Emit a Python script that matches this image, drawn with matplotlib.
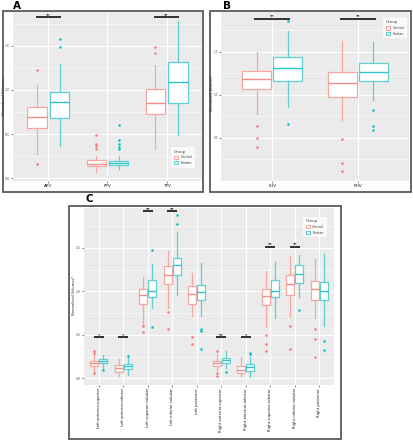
import matplotlib
matplotlib.use('Agg')
import matplotlib.pyplot as plt
from matplotlib.patches import Rectangle, Patch
from matplotlib.ticker import FixedLocator

# ---------------- Data ----------------
groups = ["Control", "Fontan"]

# Panel A
a_categories = ["APV", "PPV", "TPV"]
a_ctrl_low = [0.27, 0.07, 0.33]
a_ctrl_q1 = [0.57, 0.14, 0.73]
a_ctrl_med = [0.69, 0.165, 0.85]
a_ctrl_q3 = [0.81, 0.21, 1.01]
a_ctrl_high = [1.06, 0.25, 1.28]
a_ctrl_out = [[1.22, 0.16], [0.49, 0.39, 0.37, 0.33], [1.48, 1.42]]
a_fon_low = [0.36, 0.11, 0.49]
a_fon_q1 = [0.68, 0.15, 0.85]
a_fon_med = [0.86, 0.17, 1.09]
a_fon_q3 = [0.98, 0.20, 1.31]
a_fon_high = [1.29, 0.25, 1.78]
a_fon_out = [[1.49, 1.57], [0.60, 0.43, 0.39, 0.35, 0.33], []]
a_sig = ["**", "", "**"]
a_sig_y = [1.82, None, 1.82]
a_yticks = [0.0, 0.5, 1.0, 1.5]
a_yticklabels = ["0.0", "0.5", "1.0", "1.5"]

# Panel B
b_categories = ["LHV", "RHV"]
b_ctrl_low = [0.912, 0.882]
b_ctrl_q1 = [1.026, 0.992]
b_ctrl_med = [1.072, 1.057]
b_ctrl_q3 = [1.112, 1.108]
b_ctrl_high = [1.197, 1.251]
b_ctrl_out = [[0.857, 0.798, 0.758], [0.797, 0.682, 0.646]]
b_fon_low = [0.943, 0.974]
b_fon_q1 = [1.066, 1.065]
b_fon_med = [1.123, 1.105]
b_fon_q3 = [1.174, 1.149]
b_fon_high = [1.297, 1.246]
b_fon_out = [[0.866, 1.343], [0.928, 0.854, 0.838]]
b_sig = ["**", "**"]
b_sig_y = [1.354, 1.354]
b_yticks = [0.8, 1.0, 1.2]
b_yticklabels = ["0.8", "1.0", "1.2"]

# Panel C
c_categories = ["Left anterior-superior", "Left anterior-inferior", "Left superior tubular",
                "Left inferior tubular", "Left posterior", "Right anterior-superior",
                "Right anterior-inferior", "Right superior tubular", "Right inferior tubular",
                "Right posterior"]
c_ctrl_low = [0.065, 0.027, 0.60, 0.81, 0.72, 0.096, 0.027, 0.59, 0.71, 0.69]
c_ctrl_q1 = [0.146, 0.077, 0.86, 1.088, 0.86, 0.142, 0.058, 0.84, 0.96, 0.90]
c_ctrl_med = [0.173, 0.115, 0.954, 1.188, 0.973, 0.173, 0.10, 0.95, 1.085, 1.027]
c_ctrl_q3 = [0.204, 0.158, 1.027, 1.288, 1.065, 0.196, 0.146, 1.027, 1.19, 1.115]
c_ctrl_high = [0.28, 0.22, 1.165, 1.46, 1.21, 0.28, 0.24, 1.24, 1.41, 1.37]
c_ctrl_out = [[0.32, 0.29, 0.058], [], [0.60, 0.53], [0.76, 0.57], [0.47, 0.39],
              [0.31, 0.058, 0.027], [], [0.50, 0.40, 0.31], [0.60, 0.34], [0.57, 0.45, 0.24]]
c_fon_low = [0.115, 0.04, 0.81, 0.96, 0.72, 0.115, 0.02, 0.69, 0.93, 0.60]
c_fon_q1 = [0.173, 0.104, 0.935, 1.185, 0.90, 0.177, 0.088, 0.94, 1.096, 0.896]
c_fon_med = [0.204, 0.146, 1.008, 1.30, 0.988, 0.208, 0.127, 1.008, 1.20, 1.004]
c_fon_q3 = [0.223, 0.169, 1.13, 1.38, 1.069, 0.235, 0.165, 1.13, 1.30, 1.11]
c_fon_high = [0.27, 0.25, 1.32, 1.68, 1.33, 0.32, 0.25, 1.34, 1.42, 1.43]
c_fon_out = [[0.09], [0.26], [1.48, 0.59], [1.78, 1.88], [0.565, 0.55, 0.34],
             [0.073], [0.29, 0.28], [], [0.79], [0.43, 0.33]]
c_sig = ["*", "*", "**", "**", "", "**", "*", "**", "**", ""]
c_sig_y = [0.47, 0.47, 1.92, 1.92, None, 0.47, 0.47, 1.51, 1.51, None]
c_yticks = [0.0, 0.5, 1.0, 1.5]
c_yticklabels = ["0.0", "0.5", "1.0", "1.5"]

# ---------------- Styling ----------------
W, H = 414, 440
CTRL_EDGE = '#F5A7A1'
CTRL_MED = '#F28C84'
CTRL_PT = '#F8766D'
FON_EDGE = '#5FCFD2'
FON_MED = '#2EC3C7'
FON_PT = '#00BFC4'

fig = plt.figure(figsize=(W / 100, H / 100), dpi=100)
fig.patch.set_facecolor('white')


def ax_px(x0, y0, x1, y1):
    return fig.add_axes([x0 / W, 1 - y1 / H, (x1 - x0) / W, (y1 - y0) / H])


def frame_px(x0, y0, x1, y1):
    fig.patches.append(Rectangle((x0 / W, 1 - y1 / H), (x1 - x0) / W, (y1 - y0) / H,
                                 transform=fig.transFigure, fill=False,
                                 ec='#5a5a5a', lw=1.3))


def stats(low, q1, med, q3, high, out):
    return [dict(whislo=l, q1=a, med=m, q3=b, whishi=h, fliers=o)
            for l, a, m, b, h, o in zip(low, q1, med, q3, high, out)]


def draw_panel(ax, cats, ctrl, fon, sig, sig_y, yticks, yticklabels, ylim,
               rot=0, xfs=3.0, legend_center=(0.9, 0.9), off=0.19, width=0.33, yfs=2.3):
    n = len(cats)
    ax.set_facecolor('#EBEBEB')
    for sp in ax.spines.values():
        sp.set_visible(False)
    pos = list(range(1, n + 1))
    for st, d, edge, med, pt in [(ctrl, -off, CTRL_EDGE, CTRL_MED, CTRL_PT),
                                  (fon, off, FON_EDGE, FON_MED, FON_PT)]:
        res = ax.bxp(st, positions=[p + d for p in pos], widths=width, patch_artist=True,
                     showcaps=False,
                     boxprops=dict(facecolor='white', edgecolor=edge, lw=0.9),
                     whiskerprops=dict(color=edge, lw=0.9),
                     medianprops=dict(color=med, lw=1.0),
                     flierprops=dict(marker='o', markersize=1.8, markerfacecolor=pt,
                                     markeredgecolor='none'),
                     manage_ticks=False, zorder=3)
        for b in res['boxes']:
            b.set_facecolor('white')
            b.set_edgecolor(edge)
    ax.set_xlim(0.4, n + 0.6)
    ax.set_ylim(*ylim)
    ax.xaxis.set_major_locator(FixedLocator(pos))
    ax.set_xticklabels(cats, rotation=rot, fontsize=xfs, color='#1a1a1a',
                       va='top', ha='center')
    ax.yaxis.set_major_locator(FixedLocator(yticks))
    ax.set_yticklabels(yticklabels, fontsize=yfs, color='#555555')
    step = yticks[1] - yticks[0]
    minors = [yticks[0] - step / 2] + [t + step / 2 for t in yticks]
    ax.yaxis.set_minor_locator(FixedLocator(minors))
    ax.grid(which='major', color='white', lw=0.8)
    ax.grid(which='minor', axis='y', color='white', lw=0.4)
    ax.set_axisbelow(True)
    ax.tick_params(axis='both', which='major', length=1.5, width=0.5, color='#555555', pad=0.8)
    ax.tick_params(axis='y', which='minor', length=0)
    for i, (s, y) in enumerate(zip(sig, sig_y)):
        if s and y is not None:
            p = i + 1
            ax.plot([p - 0.21, p + 0.21], [y, y], color='#111111', lw=1.2,
                    solid_capstyle='butt', zorder=4)
            ax.annotate(s, (p, y), xytext=(0, 0.3), textcoords='offset points',
                        ha='center', va='bottom', fontsize=3.2, color='#111111',
                        fontweight='bold')
    handles = [Patch(facecolor='white', edgecolor=CTRL_EDGE, lw=0.8, label='Control'),
               Patch(facecolor='white', edgecolor=FON_EDGE, lw=0.8, label='Fontan')]
    leg = ax.legend(handles=handles, title='Group', loc='center',
                    bbox_to_anchor=legend_center, fontsize=2.4, title_fontsize=2.8,
                    frameon=True, facecolor='white', edgecolor='none', fancybox=False,
                    handlelength=1.3, handleheight=1.1, borderpad=0.8,
                    labelspacing=0.5, handletextpad=0.6)
    leg._legend_box.align = 'left'
    leg.get_title().set_color('#444444')
    for t in leg.get_texts():
        t.set_color('#444444')


# Panel A
frame_px(3, 11, 203, 192)
axA = ax_px(13, 12, 202, 181)
draw_panel(axA, a_categories,
           stats(a_ctrl_low, a_ctrl_q1, a_ctrl_med, a_ctrl_q3, a_ctrl_high, a_ctrl_out),
           stats(a_fon_low, a_fon_q1, a_fon_med, a_fon_q3, a_fon_high, a_fon_out),
           a_sig, a_sig_y, a_yticks, a_yticklabels, (-0.03, 1.88),
           legend_center=(0.9, 0.14))
fig.text(4 / W, 1 - 96 / H, 'Normalised Volumes', rotation=90, fontsize=2.6,
         color='#333333', ha='center', va='center')
fig.text(17 / W, 1 - 6 / H, 'A', fontsize=7.5, fontweight='bold', ha='center', va='center')

# Panel B
frame_px(210, 11, 411, 192)
axB = ax_px(221, 12, 409, 181)
draw_panel(axB, b_categories,
           stats(b_ctrl_low, b_ctrl_q1, b_ctrl_med, b_ctrl_q3, b_ctrl_high, b_ctrl_out),
           stats(b_fon_low, b_fon_q1, b_fon_med, b_fon_q3, b_fon_high, b_fon_out),
           b_sig, b_sig_y, b_yticks, b_yticklabels, (0.6, 1.385),
           legend_center=(0.926, 0.905), off=0.18, width=0.34, yfs=2.0)
fig.text(212.3 / W, 1 - 93 / H, 'Normalised Volumes*', rotation=90, fontsize=2.4,
         color='#333333', ha='center', va='center')
fig.text(227 / W, 1 - 6 / H, 'B', fontsize=7.5, fontweight='bold', ha='center', va='center')

# Panel C
frame_px(69, 206, 341, 439)
axC = ax_px(84, 208, 334, 385)
draw_panel(axC, c_categories,
           stats(c_ctrl_low, c_ctrl_q1, c_ctrl_med, c_ctrl_q3, c_ctrl_high, c_ctrl_out),
           stats(c_fon_low, c_fon_q1, c_fon_med, c_fon_q3, c_fon_high, c_fon_out),
           c_sig, c_sig_y, c_yticks, c_yticklabels, (-0.077, 1.96),
           rot=90, xfs=2.7, legend_center=(0.924, 0.893))
fig.text(74 / W, 1 - 295 / H, 'Normalised Volumes*', rotation=90, fontsize=2.6,
         color='#333333', ha='center', va='center')
fig.text(89 / W, 1 - 199 / H, 'C', fontsize=7.5, fontweight='bold', ha='center', va='center')

fig.savefig('out.png', dpi=100, facecolor='white')
